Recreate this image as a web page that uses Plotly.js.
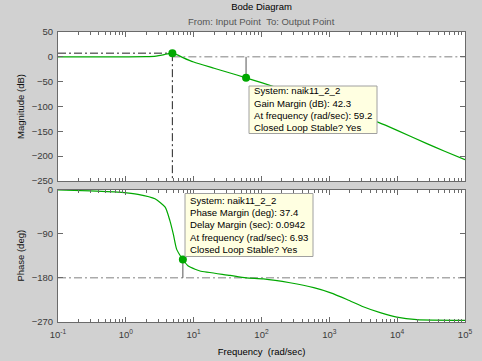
<!DOCTYPE html>
<html>
<head>
<meta charset="utf-8">
<script src="https://cdn.plot.ly/plotly-3.0.1.min.js"></script>
<style>html,body{margin:0;padding:0;background:#d1d1d1;}#chart{width:482px;height:361px;}</style>
</head>
<body>
<div id="chart"></div>
<script>
// ---- data ----
const magFreq = [0.1, 1, 2, 2.8, 3.55, 4.27, 4.85, 5.62, 7.08, 10, 20, 31.6, 59.2, 100, 316, 1000, 2000, 3160, 5300, 10000, 27400, 50100, 100000];
const magDb   = [0, 0, 0.3, 1.5, 4, 6.5, 7.4, 4.5, -2, -10.5, -23, -31, -42.3, -52, -74, -97, -111, -121, -132, -148, -174.7, -190, -207];

const phFreq = [0.1, 0.3, 0.87, 1.51, 2.69, 3.8, 4.47, 5.01, 5.62, 6.93, 8.32, 10.5, 12.4, 34.4, 59.2, 107, 263, 589, 1023, 1820, 3160, 5620, 9890, 19500, 100000];
const phDeg  = [-1, -3, -6, -10, -19, -36, -64, -91, -122, -142.6, -156, -162.6, -166, -175, -180, -182, -190, -200, -210, -224, -239, -251, -260, -265, -266.5];

const peakFreq = 4.85, peakMag = 7.4;
const gmFreq = 59.2, gmDb = 42.3;
const pmFreq = 6.93, pmDeg = 37.4, delayMargin = 0.0942;
const sysName = 'naik11_2_2';

const xTickVals = [0.1, 1, 10, 100, 1000, 10000, 100000];
const xTickText = ['10<sup>-1</sup>','10<sup>0</sup>','10<sup>1</sup>','10<sup>2</sup>','10<sup>3</sup>','10<sup>4</sup>','10<sup>5</sup>'];
const magTicks = [-250, -200, -150, -100, -50, 0, 50];
const phTicks = [-270, -180, -90, 0];

const gmLines = ['System: ' + sysName, 'Gain Margin (dB): ' + gmDb, 'At frequency (rad/sec): ' + gmFreq, 'Closed Loop Stable? Yes'];
const pmLines = ['System: ' + sysName, 'Phase Margin (deg): ' + pmDeg, 'Delay Margin (sec): ' + delayMargin, 'At frequency (rad/sec): ' + pmFreq, 'Closed Loop Stable? Yes'];

// minor tick positions (2..9 within each decade)
const minorVals = [];
for (let d = -1; d < 5; d++) for (let m = 2; m <= 9; m++) minorVals.push(m * Math.pow(10, d));

const green = '#00a800';
const dd = '8px,3px,2px,3px';
const traces = [
  // reference lines
  {x:[0.1, peakFreq], y:[peakMag, peakMag], xaxis:'x', yaxis:'y', mode:'lines', line:{color:'#222', width:1, dash:dd}},
  {x:[peakFreq, peakFreq], y:[peakMag, -250], xaxis:'x', yaxis:'y', mode:'lines', line:{color:'#222', width:1, dash:dd}},
  {x:[peakFreq, 100000], y:[0, 0], xaxis:'x', yaxis:'y', mode:'lines', line:{color:'#808080', width:1, dash:dd}},
  {x:[gmFreq, gmFreq], y:[0, -gmDb], xaxis:'x', yaxis:'y', mode:'lines', line:{color:'#555', width:1}},
  {x:[0.1, 100000], y:[-180, -180], xaxis:'x2', yaxis:'y2', mode:'lines', line:{color:'#808080', width:1, dash:dd}},
  {x:[pmFreq, pmFreq], y:[-180 + pmDeg, -180], xaxis:'x2', yaxis:'y2', mode:'lines', line:{color:'#555', width:1}},
  // curves
  {x:magFreq, y:magDb, xaxis:'x', yaxis:'y', mode:'lines', line:{color:green, width:1.2, shape:'spline', smoothing:0.6}},
  {x:phFreq, y:phDeg, xaxis:'x2', yaxis:'y2', mode:'lines', line:{color:green, width:1.2, shape:'spline', smoothing:0.6}},
  // markers
  {x:[peakFreq, gmFreq], y:[peakMag, -gmDb], xaxis:'x', yaxis:'y', mode:'markers', marker:{color:green, size:8}},
  {x:[pmFreq], y:[-180 + pmDeg], xaxis:'x2', yaxis:'y2', mode:'markers', marker:{color:green, size:8}}
];

const W = 482, H = 361, ML = 58, MR = 17, MT = 32, MB = 39;
const px = v => (v - ML) / (W - ML - MR);
const py = v => (H - MB - v) / (H - MT - MB);

const axisCommon = {
  type:'log', range:[-1, 5], showgrid:false, zeroline:false,
  showline:true, linecolor:'#6a6a6a', linewidth:1, mirror:'ticks',
  ticks:'inside', ticklen:5, tickcolor:'#6a6a6a',
  tickmode:'array', tickvals:xTickVals, ticktext:xTickText,
  minor:{tickmode:'array', tickvals:minorVals, ticks:'inside', ticklen:3, tickcolor:'#6a6a6a'}
};
const yCommon = {
  showgrid:false, zeroline:false, showline:true, linecolor:'#6a6a6a', linewidth:1, mirror:'ticks',
  ticks:'inside', ticklen:5, tickcolor:'#6a6a6a', tickmode:'array', ticklabelstandoff:2
};

const boxFont = {family:'Liberation Sans, Arial, sans-serif', size:9.6, color:'#000'};
const annotations = [
  {text:'From: Input Point &nbsp;To: Output Point', xref:'paper', yref:'paper', x:0.5, y:py(22), xanchor:'center', yanchor:'middle',
   showarrow:false, font:{size:9.5, color:'#555'}}
];
function boxText(lines, left, firstCenter, step) {
  lines.forEach((t, i) => annotations.push({
    text:t, xref:'paper', yref:'paper', x:px(left), y:py(firstCenter + i * step),
    xanchor:'left', yanchor:'middle', showarrow:false, align:'left', font:boxFont
  }));
}
boxText(gmLines, 252, 91, 12);
boxText(pmLines, 188, 200.7, 12.1);

const shapes = [
  {type:'rect', xref:'paper', yref:'paper', x0:px(249), x1:px(377), y0:py(86), y1:py(133.5), fillcolor:'#ffffe1', line:{color:'#a0a0a0', width:1}, layer:'above'},
  {type:'rect', xref:'paper', yref:'paper', x0:px(185), x1:px(313), y0:py(193.5), y1:py(256.5), fillcolor:'#ffffe1', line:{color:'#a0a0a0', width:1}, layer:'above'}
];

const layout = {
  width:W, height:H,
  paper_bgcolor:'#d1d1d1', plot_bgcolor:'#ffffff',
  margin:{l:ML, r:MR, t:MT, b:MB},
  showlegend:false, hovermode:false,
  font:{family:'Liberation Sans, Arial, sans-serif', size:9.5, color:'#3a3a3a'},
  title:{text:'Bode Diagram', x:(ML + (W-ML-MR)/2)/W, xanchor:'center', yref:'container', y:1 - 7/H, yanchor:'middle', font:{size:9.5, color:'#000'}},
  xaxis:Object.assign({}, axisCommon, {anchor:'y', showticklabels:false}),
  yaxis:Object.assign({}, yCommon, {domain:[py(181), 1], range:[-250, 50], tickvals:magTicks,
    title:{text:'Magnitude (dB)', standoff:5, font:{size:9.5, color:'#111'}}}),
  xaxis2:Object.assign({}, axisCommon, {anchor:'y2', showticklabels:true, ticklabelstandoff:4,
    title:{text:'Frequency &nbsp;(rad/sec)', standoff:8, font:{size:9.5, color:'#000'}}}),
  yaxis2:Object.assign({}, yCommon, {domain:[0, py(189.5)], range:[-270, 0], tickvals:phTicks,
    title:{text:'Phase (deg)', standoff:5, font:{size:9.5, color:'#111'}}}),
  shapes:shapes,
  annotations:annotations
};

Plotly.newPlot('chart', traces, layout, {staticPlot:true, displayModeBar:false});
</script>
</body>
</html>
